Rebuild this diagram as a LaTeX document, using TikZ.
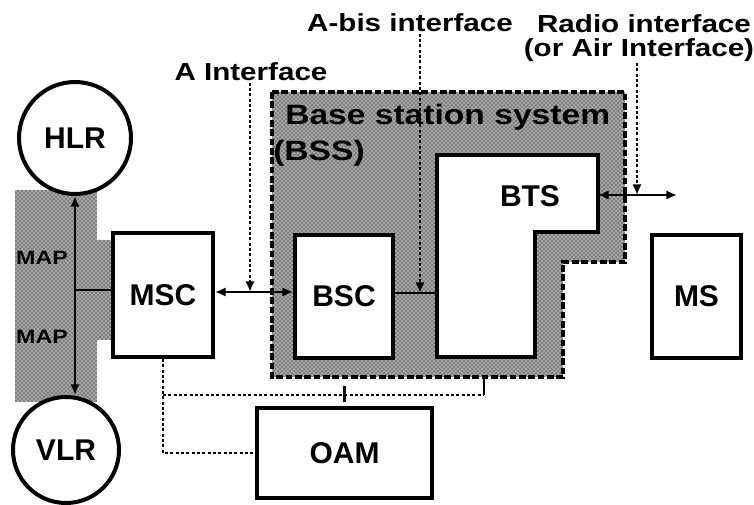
\documentclass[tikz,border=0pt]{standalone}
\usepackage{fontspec}
\setmainfont{Liberation Sans}
\usepackage{graphicx}
\usetikzlibrary{arrows.meta,patterns,calc}
\newcommand{\stretchtxt}[1]{\scalebox{1.2}[1]{#1}}
\begin{document}
\begin{tikzpicture}[x=0.75pt,y=-0.75pt,
  box/.style={draw, line width=3pt, fill=white, inner sep=0pt},
  lbl/.style={font=\bfseries\fontsize{22.5}{24}\selectfont},
  iface/.style={font=\bfseries\fontsize{18.5}{20}\selectfont, inner sep=1pt},
  bsstxt/.style={font=\bfseries\fontsize{21}{22}\selectfont, inner sep=0pt, anchor=west},
  maptxt/.style={font=\bfseries\fontsize{14.5}{15}\selectfont, inner sep=0pt},
  dots/.style={line width=2pt, dash pattern=on 2.2pt off 1.8pt},
  link/.style={line width=2.2pt},
  tip/.tip={Latex[length=8pt,width=7pt]},
  shade/.style={fill=gray!70, postaction={pattern=crosshatch dots, pattern color=black}},
  bssborder/.style={line width=2.8pt, dash pattern=on 5pt off 2pt}
]
\useasboundingbox (0,0) rectangle (754,505);

% shaded regions
\path[shade] (15,190) -- (97,190) -- (97,240) -- (113,240) -- (113,340) -- (97,340) -- (97,402) -- (15,402) -- cycle;
\path[shade] (272,92) -- (625,92) -- (625,262) -- (563,262) -- (563,377) -- (272,377) -- cycle;
\draw[bssborder] (272,92) -- (625,92) -- (625,262) -- (563,262) -- (563,377) -- (272,377) -- cycle;

\node[bsstxt] (bss1) at (285,117) {\stretchtxt{Base station system}};
\node[bsstxt] (bss2) at (273,153) {\stretchtxt{(BSS)}};
\node[maptxt] (map1) at (42,258) {\stretchtxt{MAP}};
\node[maptxt] (map2) at (42,337) {\stretchtxt{MAP}};

% circles
\node[box, circle, minimum size=84pt, lbl] (HLR) at (75,138) {HLR};
\node[box, circle, minimum size=79.5pt, lbl] (VLR) at (66,450) {VLR};

% boxes
\node[box, minimum width=75pt, minimum height=93pt, lbl] (MSC) at (163,295) {MSC};
\node[box, minimum width=73.5pt, minimum height=92.25pt, lbl] (BSC) at (344,296.5) {BSC};
\node[box, minimum width=66.75pt, minimum height=92.25pt, lbl] (MS) at (696.5,296.5) {MS};
\node[box, minimum width=131.25pt, minimum height=67.5pt, lbl] (OAM) at (344.5,453) {OAM};
\draw[line width=3pt, fill=white] (437,155) -- (598,155) -- (598,232) -- (535,232) -- (535,357) -- (437,357) -- cycle;
\node[lbl] (BTS) at (530,196) {BTS};

% interface labels
\node[iface] (AIf) at (251,72) {\stretchtxt{A Interface}};
\node[iface] (AbisIf) at (410,23) {\stretchtxt{A-bis interface}};
\node[iface] (RadioIf) at (644,24) {\stretchtxt{Radio interface}};
\node[iface] (AirIf) at (639,50) {\stretchtxt{(or Air Interface)}};

% coordinates
\coordinate (aLink) at (250,292);
\coordinate (abisPt) at (420,293);
\coordinate (btsW) at (437,293);
\coordinate (btsE) at (598,195);
\coordinate (air) at (677,195);
\coordinate (radioPt) at (637,195);
\coordinate (mapJ) at (75,290);
\coordinate (oamBus) at (484,395);
\coordinate (bssBot) at (484,377);

% MAP links
\draw[link, tip-tip] (HLR.south) -- (HLR.south |- VLR.north);
\draw[link] (mapJ) -- (MSC.west |- mapJ);

% A interface link
\draw[link, tip-tip] (MSC.east |- aLink) -- (BSC.west |- aLink);
\draw[dots, -tip] (aLink |- AIf.south) -- (aLink);

% A-bis link
\draw[link] (BSC.east |- abisPt) -- (btsW);
\draw[dots, -tip] (abisPt |- AbisIf.south) -- (abisPt);

% radio link
\draw[link, tip-tip] (btsE) -- (air);
\draw[dots, -tip] (radioPt |- AirIf.south) -- (radioPt);

% OAM links
\draw[dots] (MSC.south) |- (OAM.west);
\draw[dots] (oamBus -| MSC.south) -- (oamBus);
\draw[line width=1.6pt] (oamBus) -- (bssBot);
\draw[line width=1.6pt] ($(OAM.north)+(0,-20)$) -- ($(OAM.north)+(0,-4)$);
\end{tikzpicture}
\end{document}
